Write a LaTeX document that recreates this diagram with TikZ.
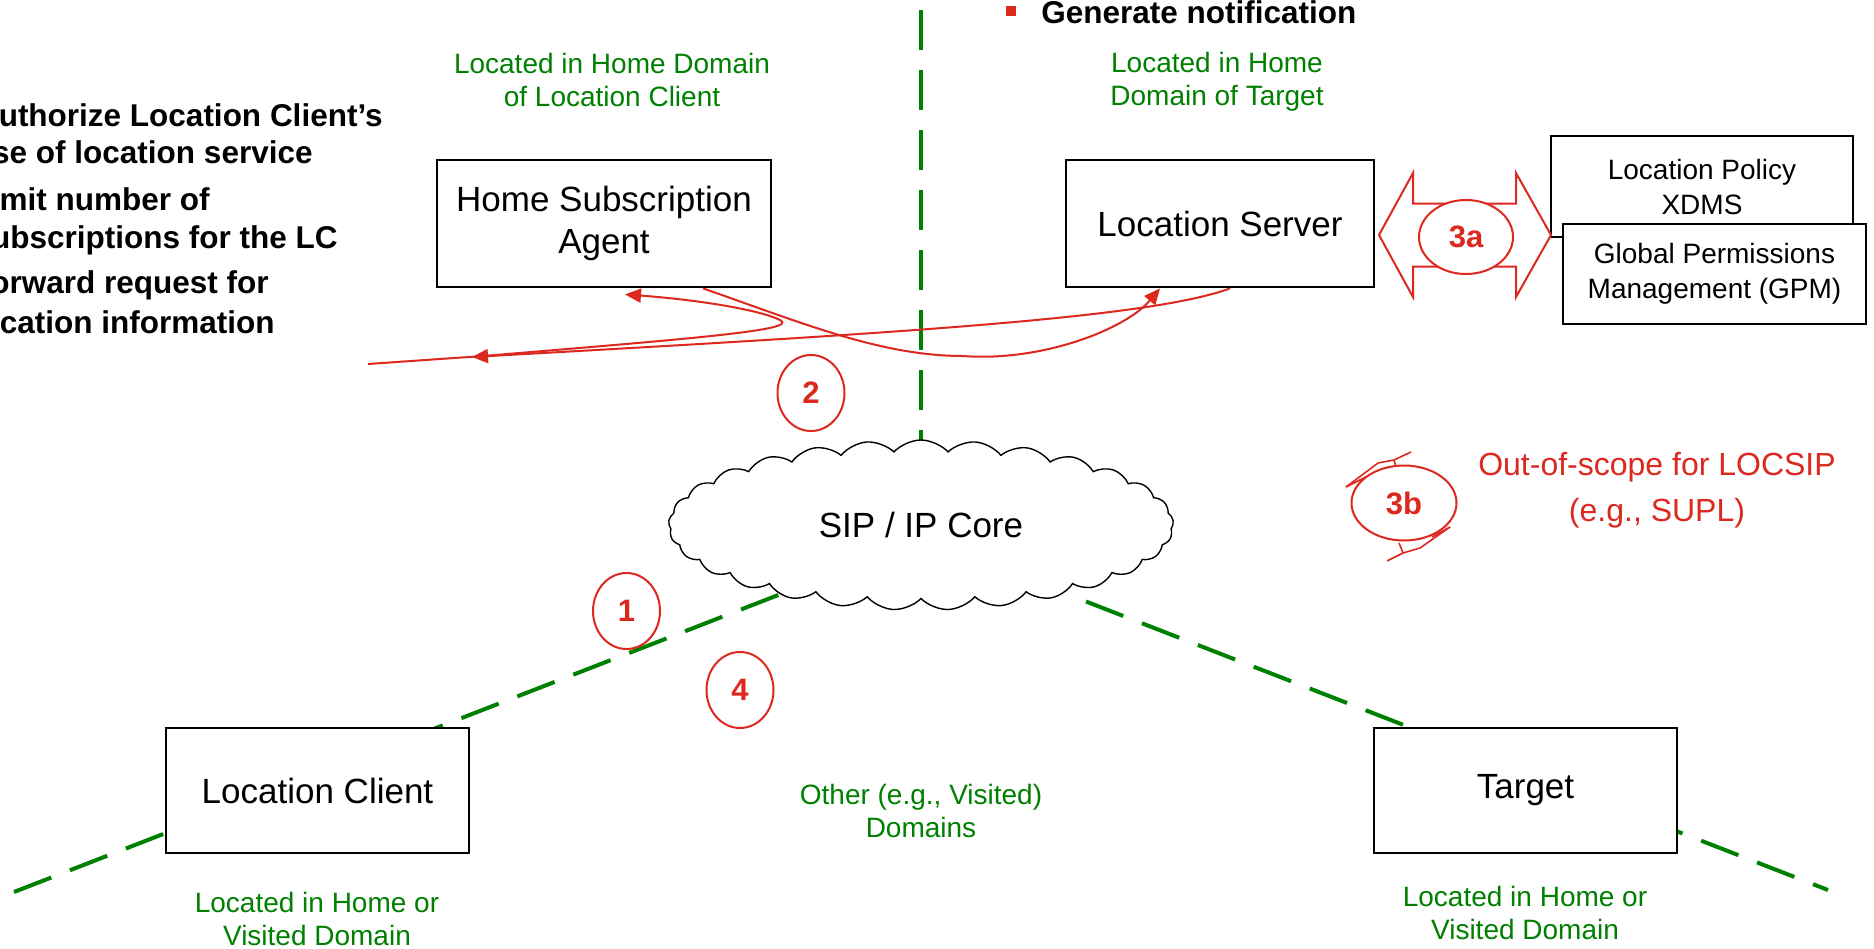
\documentclass[tikz,border=0pt]{standalone}
\usepackage{fontspec}
\setmainfont{Liberation Sans}
\usetikzlibrary{shapes.geometric,shapes.symbols,arrows.meta}
\definecolor{lred}{RGB}{220,40,30}
\definecolor{dgreen}{RGB}{0,128,0}
\begin{document}
\begin{tikzpicture}[x=0.5pt,y=-0.5pt,
  entbox/.style={draw=black, line width=1.4pt, fill=white, inner sep=0pt, align=center, font=\fontsize{17.5}{21}\selectfont},
  smallbox/.style={draw=black, line width=1.4pt, fill=white, inner sep=0pt, align=center, font=\fontsize{14}{17.5}\selectfont},
  domlabel/.style={text=dgreen, align=center, inner sep=0pt, font=\fontsize{14}{16.5}\selectfont},
  bdash/.style={draw=dgreen, line width=2pt, dash pattern=on 20pt off 10pt},
  redflow/.style={draw=lred, line width=1pt},
  redarrow/.style={redflow, -{Triangle[length=8pt,width=7pt]}},
  stepnum/.style={ellipse, draw=lred, line width=1pt, fill=white, inner sep=0pt, text=lred, font=\fontsize{15.5}{18}\selectfont\bfseries},
  boldtxt/.style={inner sep=0pt, font=\fontsize{15.75}{19}\selectfont\bfseries},
  thinred/.style={draw=lred, line width=0.8pt},
]
\useasboundingbox (0,0) rectangle (1874,948);
\clip (0,0) rectangle (1874,948);
\fill[white] (0,0) rectangle (1874,948);

% domain borders
\coordinate (vTop) at (921,10);
\coordinate (vBot) at (921,446);
\coordinate (lA) at (14,892);
\coordinate (lB) at (786,592);
\coordinate (rA) at (1086,601.5);
\coordinate (rB) at (1828,890);
\draw[bdash] (vTop) -- (vBot);
\draw[bdash] (lA) -- (lB);
\draw[bdash] (rA) -- (rB);

% core network
\node[cloud, cloud puffs=29, cloud puff arc=95, cloud ignores aspect, draw=black, line width=0.7pt, fill=white,
      minimum width=252.5pt, minimum height=85pt, inner sep=0pt, font=\fontsize{17.5}{21}\selectfont] (core) at (921,525) {SIP / IP Core};

% entities
\node[entbox, minimum width=167pt, minimum height=63.5pt] (hsa) at (604,223.5) {Home Subscription\\Agent};
\node[entbox, minimum width=154pt, minimum height=63.5pt] (ls) at (1220,223.5) {Location Server};
\node[entbox, minimum width=151.5pt, minimum height=62.5pt] (lc) at (317.5,790.5) {Location Client};
\node[entbox, minimum width=151.5pt, minimum height=62.5pt] (tgt) at (1525.5,790.5) {Target};
\node[smallbox, minimum width=151pt, minimum height=50.5pt] (lp) at (1702,186.5) {Location Policy\\XDMS};
\node[smallbox, minimum width=151.5pt, minimum height=50pt] (gpm) at (1714.5,274) {Global Permissions\\Management (GPM)};

% domain labels
\node[domlabel] (hsadom) at (612,79.5) {Located in Home Domain\\of Location Client};
\node[domlabel] (lsdom) at (1217,82) {Located in Home\\Domain of Target};
\node[domlabel] (othdom) at (921,811) {Other (e.g., Visited)\\Domains};
\node[domlabel] (lcdom) at (317,919) {Located in Home or\\Visited Domain};
\node[domlabel] (tgtdom) at (1525,913) {Located in Home or\\Visited Domain};

% bold notes
\node[boldtxt, anchor=base east] (n1) at (383,126) {uthorize Location Client’s};
\node[boldtxt, anchor=base east] (n2) at (313,163) {se of location service};
\node[boldtxt, anchor=base east] (n3) at (210,210) {mit number of};
\node[boldtxt, anchor=base east] (n4) at (338,248) {ubscriptions for the LC};
\node[boldtxt, anchor=base east] (n5) at (269,293) {orward request for};
\node[boldtxt, anchor=base east] (n6) at (275,333) {cation information};
\fill[lred] (1006,6) rectangle (1016,16);
\node[boldtxt, anchor=base west] (gen) at (1041,23) {Generate notification};

% red flows
\coordinate (retTip) at (472,357);
\coordinate (leftEnd) at (368,364);
\draw[redarrow] ([xshift=49.5pt]hsa.south) .. controls (800,322) and (880,356) .. (963,356)
      .. controls (1040,362) and (1125,330) .. ([xshift=-30pt]ls.south);
\draw[redarrow] ([xshift=5pt]ls.south) .. controls (1150,318) and (900,333) .. (retTip);
\draw[redarrow] (leftEnd) -- (483,356) .. controls (700,338) and (800,330) .. (780,320)
      .. controls (760,310) and (700,300) .. ([xshift=10.5pt,yshift=-3pt]hsa.south);

% step numbers
\node[stepnum, minimum width=33.5pt, minimum height=38pt] (s2) at (811,393) {2};
\node[stepnum, minimum width=33.5pt, minimum height=38pt] (s1) at (626.5,611) {1};
\node[stepnum, minimum width=33.5pt, minimum height=38pt] (s4) at (740,690) {4};

% 3a double arrow
\draw[thinred, line width=1pt, fill=white] (1379,235) -- (1413,173) -- (1413,203.5) -- (1516,203.5) -- (1516,173)
   -- (1551,235) -- (1516,297) -- (1516,266.5) -- (1413,266.5) -- (1413,297) -- cycle;
\node[stepnum, minimum width=47pt, minimum height=37pt] (s3a) at (1466,237) {3a};

% 3b circular arrows
\draw[thinred] (1346,487) -- (1378,463) -- (1394,460) -- (1411,452);
\draw[thinred] (1346,487) -- (1368,476);
\draw[thinred] (1394,460) -- (1396,467);
\draw[thinred] (1450,527) -- (1420,548) -- (1403,553) -- (1387,561);
\draw[thinred] (1450,527) -- (1432,537);
\draw[thinred] (1403,553) -- (1399,543);
\node[stepnum, minimum width=52.5pt, minimum height=37.5pt] (s3b) at (1404,503) {3b};

\node[text=lred, align=center, inner sep=0pt, font=\fontsize{16}{23}\selectfont] (oos) at (1657,490.7) {Out-of-scope for LOCSIP\\(e.g., SUPL)};
\end{tikzpicture}
\end{document}
